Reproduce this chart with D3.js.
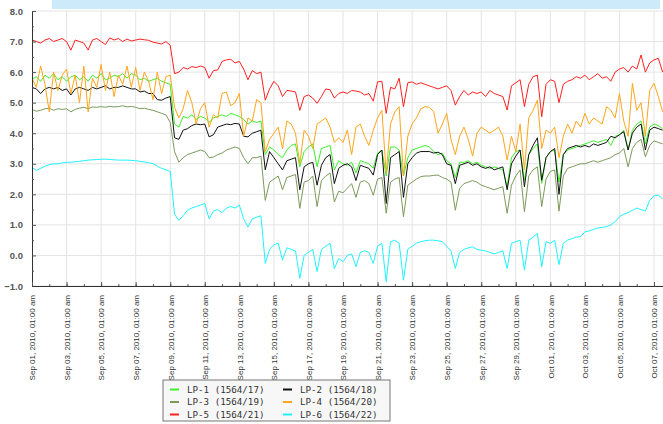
<!DOCTYPE html>
<html>
<head>
<meta charset="utf-8">
<script src="https://cdn.jsdelivr.net/npm/d3@7"></script>
<style>
  body { margin: 0; background: #fff; }
  svg { display: block; }
</style>
</head>
<body>
<svg id="chart" width="663" height="424"></svg>
<script>
// readings every 6 hours from Sep 01, 2010 01:00
const seriesNames = ["LP-1 (1564/17)", "LP-2 (1564/18)", "LP-3 (1564/19)", "LP-4 (1564/20)", "LP-5 (1564/21)", "LP-6 (1564/22)"];
const seriesColors = ["#3ef02a", "#111111", "#7b9a5a", "#ffa51a", "#ff2020", "#1ef4ff"];

const lp1 = [
  5.75, 5.85, 5.7, 5.9, 5.8, 5.95, 5.75, 5.85, 5.7, 5.85, 5.9, 5.75, 5.85, 5.7, 5.9, 5.8,
  5.95, 5.75, 5.8, 5.9, 5.85, 5.95, 5.8, 5.95, 5.9, 5.75, 5.8, 5.7, 5.75, 5.8, 5.7, 5.65,
  5.6, 4.3, 4.2, 4.55, 4.5, 4.6, 4.45, 4.55, 4.5, 4.35, 4.5, 4.55, 4.6, 4.55, 4.65, 4.6,
  4.55, 4.45, 4.3, 4.4, 4.35, 4.4, 3.3, 3.55, 3.45, 3.3, 3.2, 3.45, 3.6, 3.65, 2.9, 3.4,
  3.55, 3.65, 2.9, 3.5, 3.55, 3.6, 2.8, 3.1, 3.0, 2.95, 3.05, 2.7, 3.1, 3.05, 3.0, 2.85,
  3.35, 3.45, 2.6, 3.55, 3.55, 3.45, 2.6, 3.2, 3.45, 3.5, 3.55, 3.6, 3.55, 3.4, 3.3, 3.35,
  3.1, 3.0, 2.55, 3.05, 3.05, 3.1, 3.0, 3.05, 2.95, 2.9, 2.85, 2.9, 2.85, 2.8, 2.25, 3.2,
  3.4, 3.45, 2.46, 3.3, 3.5, 3.65, 2.36, 3.2, 3.4, 3.45, 2.4, 3.3, 3.45, 3.5, 3.55, 3.6,
  3.65, 3.7, 3.75, 3.7, 3.75, 3.8, 3.6, 3.9, 3.95, 4.1, 3.45, 4.1, 4.3, 4.4, 3.65, 4.2,
  4.3, 4.25, 4.15
];
const lp2 = [
  5.5, 5.45, 5.3, 5.45, 5.5, 5.45, 5.5, 5.4, 5.45, 5.25, 5.45, 5.5, 5.45, 5.4, 5.5, 5.45,
  5.5, 5.55, 5.45, 5.5, 5.5, 5.55, 5.5, 5.45, 5.45, 5.35, 5.38, 5.3, 5.3, 5.1, 5.08, 5.15,
  5.2, 3.85, 3.8, 4.1, 4.15, 4.25, 4.3, 4.28, 4.3, 3.88, 3.95, 4.2, 4.25, 4.3, 4.28, 4.32,
  4.3, 3.9, 3.88, 4.0, 4.05, 4.1, 2.8, 3.4, 3.2, 3.0, 2.8, 3.1, 3.15, 3.2, 2.15, 2.9,
  3.0, 3.05, 2.3, 2.95, 3.2, 3.3, 2.35, 2.85, 2.95, 3.0, 2.9, 2.45, 2.95, 2.9, 2.85, 2.63,
  3.3, 3.45, 1.7, 3.2, 3.3, 3.4, 1.9, 3.0, 3.2, 3.35, 3.4, 3.4, 3.4, 3.35, 3.38, 3.3,
  3.0, 2.95, 2.35, 2.95, 3.0, 3.05, 2.95, 3.0, 2.9, 2.85, 2.9, 2.8, 2.85, 2.9, 2.15, 3.0,
  3.25, 3.45, 2.25, 3.3, 3.6, 3.85, 2.46, 3.2, 3.4, 3.5, 2.0, 3.3, 3.5, 3.55, 3.6, 3.55,
  3.6, 3.55, 3.65, 3.6, 3.65, 3.7, 3.9, 3.85, 3.95, 4.05, 3.45, 4.0, 4.2, 4.3, 3.45, 4.1,
  4.2, 4.15, 4.1
];
const lp3 = [
  4.78, 4.72, 4.75, 4.8, 4.82, 4.75, 4.8, 4.78, 4.8, 4.7, 4.78, 4.82, 4.85, 4.8, 4.86, 4.85,
  4.87, 4.85, 4.88, 4.86, 4.87, 4.9, 4.86, 4.88, 4.85, 4.8, 4.82, 4.78, 4.75, 4.7, 4.65, 4.6,
  4.35, 3.4, 3.05, 3.2, 3.3, 3.35, 3.4, 3.45, 3.4, 3.2, 3.22, 3.3, 3.35, 3.45, 3.5, 3.55,
  3.5, 3.2, 3.0, 3.2, 3.2, 3.25, 1.8, 2.4, 2.5, 2.6, 2.15, 2.55, 2.6, 2.65, 1.54, 2.4,
  2.45, 2.6, 1.6, 2.45, 2.6, 2.7, 1.75, 2.1, 2.05, 2.2, 2.35, 1.9, 2.4, 2.45, 2.35, 1.97,
  2.5, 2.55, 1.38, 2.4, 2.5, 2.55, 1.27, 2.3, 2.4, 2.5, 2.58, 2.6, 2.6, 2.62, 2.63, 2.55,
  2.5, 2.4, 1.48, 2.2, 2.35, 2.4, 2.45, 2.4, 2.3, 2.25, 2.2, 2.15, 2.2, 2.25, 1.38, 2.3,
  2.6, 2.8, 1.43, 2.6, 2.8, 2.9, 1.6, 2.5, 2.75, 2.8, 1.45, 2.6, 2.85, 2.9, 2.95, 3.0,
  3.0, 3.05, 3.1, 3.05, 3.1, 3.15, 3.2, 3.3, 3.35, 3.5, 2.9, 3.5, 3.7, 3.8, 3.23, 3.6,
  3.75, 3.7, 3.65
];
const lp4 = [
  5.8, 5.5, 6.2, 5.6, 4.7, 6.0, 5.4, 5.9, 6.1, 5.3, 5.9, 5.0, 6.2, 4.7, 5.8, 5.5,
  6.25, 5.4, 6.0, 5.2, 5.9, 5.6, 6.2, 5.5, 6.15, 5.4, 6.0, 5.7, 5.1, 6.0, 5.3, 5.85,
  5.9, 4.85, 4.5, 4.8, 5.4, 5.0, 4.3, 4.8, 5.0, 4.2, 4.6, 4.5, 5.3, 5.35, 4.9, 5.0,
  5.3, 3.9, 4.5, 4.4, 5.1, 5.0, 3.4, 3.8, 4.0, 4.2, 3.5, 4.4, 4.3, 4.0, 3.0, 4.1,
  3.9, 3.5, 4.3, 4.4, 4.5, 4.2, 3.7, 3.85, 3.7, 4.1, 3.3, 4.2, 4.3, 3.9, 3.6, 4.1,
  4.5, 4.75, 2.7, 4.3, 4.7, 4.87, 2.6, 3.9, 4.3, 4.5, 4.8, 4.87, 4.85, 4.7, 4.0, 4.3,
  4.65, 3.8, 3.3, 3.9, 4.2, 3.8, 3.25, 4.0, 4.2, 4.1, 4.0, 4.1, 4.2, 3.9, 3.12, 3.9,
  3.4, 4.3, 2.8, 4.5, 4.75, 5.08, 3.5, 4.1, 4.0, 4.2, 3.2, 3.9, 4.3, 4.0, 4.4, 4.2,
  4.65, 4.3, 4.5, 4.4, 4.3, 4.87, 4.75, 4.5, 5.3, 4.4, 3.9, 5.63, 4.75, 5.0, 3.9, 5.4,
  5.63, 5.2, 4.7
];
const lp5 = [
  7.05, 7.0, 6.95, 7.05, 7.1, 7.0, 7.05, 7.1, 7.0, 6.72, 7.05, 7.0, 6.95, 6.72, 7.05, 7.1,
  7.0, 6.9, 7.12, 7.05, 7.1, 7.0, 7.08, 7.02, 7.05, 7.08, 7.06, 7.04, 6.98, 6.95, 6.92, 7.0,
  6.88, 5.95, 6.0, 6.15, 6.1, 6.18, 6.15, 6.2, 6.15, 5.8, 6.05, 6.07, 6.35, 6.4, 6.42, 6.3,
  6.35, 6.1, 5.75, 6.05, 5.95, 6.0, 5.08, 5.45, 5.7, 5.55, 5.2, 5.4, 5.38, 5.35, 4.75, 5.2,
  5.25, 5.15, 4.98, 5.2, 5.45, 5.42, 5.15, 5.3, 5.35, 5.3, 5.4, 5.38, 5.35, 5.25, 5.3, 5.05,
  5.68, 5.7, 4.65, 5.5, 5.45, 5.8, 4.87, 5.65, 5.68, 5.6, 5.65, 5.6, 5.55, 5.5, 5.45, 5.5,
  5.55, 5.4, 4.92, 5.2, 5.4, 5.25, 5.35, 5.3, 5.35, 5.2, 5.4, 5.3, 5.25, 5.2, 4.76, 5.55,
  5.65, 5.75, 4.87, 5.6, 5.85, 5.9, 4.54, 5.6, 5.75, 5.7, 5.0, 5.6, 5.7, 5.75, 5.85, 5.8,
  5.9, 5.75, 5.85, 5.95, 5.8, 5.85, 5.7, 6.0, 6.1, 6.15, 6.0, 6.2, 6.1, 6.56, 6.0, 6.3,
  6.4, 6.45, 6.0
];
const lp6 = [
  2.88, 2.78, 2.85, 2.92, 2.97, 3.0, 3.0, 3.03, 3.05, 3.05, 3.07, 3.08, 3.1, 3.12, 3.13, 3.14,
  3.15, 3.15, 3.14, 3.13, 3.12, 3.12, 3.12, 3.11, 3.1, 3.08, 3.06, 3.03, 3.01, 2.92, 2.85, 2.8,
  2.75, 1.35, 1.15, 1.3, 1.48, 1.55, 1.6, 1.65, 1.7, 1.2, 1.45, 1.5, 1.4, 1.55, 1.6, 1.55,
  1.65, 1.2, 0.93, 1.2, 1.25, 1.3, -0.26, 0.2, 0.35, 0.4, -0.15, 0.25, 0.2, 0.15, -0.75, 0.0,
  0.1, 0.2, -0.53, 0.2, 0.3, 0.4, -0.43, -0.1, -0.2, 0.0, 0.05, -0.37, 0.1, 0.15, 0.1, -0.26,
  0.3, 0.4, -0.86, 0.45, 0.5, 0.4, -0.81, 0.2, 0.3, 0.4, 0.45, 0.48, 0.5, 0.5, 0.48, 0.45,
  0.3, 0.15, -0.43, 0.1, 0.2, 0.25, 0.28, 0.2, 0.17, 0.15, 0.1, 0.05, 0.1, 0.15, -0.43, 0.4,
  0.45, 0.5, -0.48, 0.5, 0.6, 0.72, -0.37, 0.45, 0.4, 0.5, -0.3, 0.4, 0.5, 0.55, 0.6, 0.62,
  0.77, 0.8, 0.85, 0.9, 0.92, 0.94, 1.0, 1.1, 1.27, 1.35, 1.4, 1.48, 1.55, 1.5, 1.45, 1.8,
  1.95, 1.97, 1.85
];
const allSeries = [lp1, lp2, lp3, lp4, lp5, lp6];

const yTicks = [-1, 0, 1, 2, 3, 4, 5, 6, 7, 8];
const xTickLabels = [
  "Sep 01, 2010, 01:00 am", "Sep 03, 2010, 01:00 am", "Sep 05, 2010, 01:00 am",
  "Sep 07, 2010, 01:00 am", "Sep 09, 2010, 01:00 am", "Sep 11, 2010, 01:00 am",
  "Sep 13, 2010, 01:00 am", "Sep 15, 2010, 01:00 am", "Sep 17, 2010, 01:00 am",
  "Sep 19, 2010, 01:00 am", "Sep 21, 2010, 01:00 am", "Sep 23, 2010, 01:00 am",
  "Sep 25, 2010, 01:00 am", "Sep 27, 2010, 01:00 am", "Sep 29, 2010, 01:00 am",
  "Oct 01, 2010, 01:00 am", "Oct 03, 2010, 01:00 am", "Oct 05, 2010, 01:00 am",
  "Oct 07, 2010, 01:00 am"
];

const startTime = new Date(2010, 8, 1, 1, 0);
const HOUR = 3600 * 1000;
const times = lp1.map((d, i) => new Date(+startTime + i * 6 * HOUR));
const majorTicks = xTickLabels.map((d, i) => new Date(+startTime + i * 48 * HOUR));
const minorTicks = d3.range(37).map(i => new Date(+startTime + i * 24 * HOUR));

const plot = { left: 32, right: 663, top: 11, bottom: 286 };

const svg = d3.select("#chart");

// light blue strip at the very top
svg.append("rect")
  .attr("x", 52).attr("y", 0).attr("width", 608).attr("height", 9)
  .attr("fill", "#cdeafa");

const x = d3.scaleTime()
  .domain([startTime, new Date(+startTime + 36.52 * 24 * HOUR)])
  .range([plot.left, plot.right]);
const y = d3.scaleLinear().domain([-1, 8]).range([plot.bottom, plot.top]);

// grid
svg.append("g").selectAll("line").data(yTicks).join("line")
  .attr("x1", plot.left).attr("x2", plot.right)
  .attr("y1", d => y(d)).attr("y2", d => y(d))
  .attr("stroke", "#e4e4e4");
svg.append("g").selectAll("line").data(majorTicks.slice(1)).join("line")
  .attr("x1", d => x(d)).attr("x2", d => x(d))
  .attr("y1", plot.top).attr("y2", plot.bottom)
  .attr("stroke", "#e4e4e4");

svg.append("defs").append("clipPath").attr("id", "clip")
  .append("rect")
  .attr("x", plot.left).attr("y", 0)
  .attr("width", plot.right - plot.left).attr("height", plot.bottom);

const line = d3.line()
  .x((d, i) => x(times[i]))
  .y(d => y(d));

svg.append("g").attr("clip-path", "url(#clip)")
  .selectAll("path").data(allSeries).join("path")
  .attr("d", line)
  .attr("fill", "none")
  .attr("stroke", (d, i) => seriesColors[i])
  .attr("stroke-width", 1)
  .attr("stroke-linejoin", "round");

// axes
const yAxis = svg.append("g")
  .attr("transform", "translate(" + plot.left + ",0)")
  .call(d3.axisLeft(y).tickValues(yTicks).tickFormat(d3.format(".1f"))
    .tickSize(-4).tickPadding(9));
svg.append("g")
  .attr("transform", "translate(" + plot.left + ",0)")
  .call(d3.axisLeft(y).tickValues(d3.range(-0.5, 8, 1)).tickFormat("").tickSize(-2))
  .call(g => g.select(".domain").remove());
yAxis.selectAll("text")
  .attr("font-family", "Liberation Sans, Arial, sans-serif")
  .attr("font-size", 9.5)
  .attr("font-weight", "bold")
  .attr("fill", "#555");

const xAxis = svg.append("g")
  .attr("transform", "translate(0," + plot.bottom + ")")
  .call(d3.axisBottom(x).tickValues(majorTicks)
    .tickFormat((d, i) => xTickLabels[i]).tickSize(-4));
svg.append("g")
  .attr("transform", "translate(0," + plot.bottom + ")")
  .call(d3.axisBottom(x).tickValues(minorTicks).tickFormat("").tickSize(-2))
  .call(g => g.select(".domain").remove());
xAxis.selectAll("text")
  .attr("transform", "rotate(-90)")
  .attr("x", -9).attr("y", 0).attr("dy", "0.35em")
  .style("text-anchor", "end")
  .attr("font-family", "Liberation Sans, Arial, sans-serif")
  .attr("font-size", 8)
  .attr("fill", "#333");

svg.selectAll(".domain").attr("stroke", "#333");
svg.selectAll(".tick line").attr("stroke", "#555");

// legend
const legend = svg.append("g").attr("transform", "translate(163,380)");
legend.append("rect")
  .attr("width", 227).attr("height", 41)
  .attr("fill", "#f7f7f7").attr("stroke", "#777");
const items = legend.selectAll("g.item").data(seriesNames).join("g")
  .attr("class", "item")
  .attr("transform", (d, i) => "translate(" + (i % 2 ? 120 : 7) + "," + (9.5 + Math.floor(i / 2) * 12.5) + ")");
items.append("line")
  .attr("x1", 0).attr("x2", 9).attr("y1", 0).attr("y2", 0)
  .attr("stroke", (d, i) => seriesColors[i]).attr("stroke-width", 2);
items.append("text")
  .attr("x", 17).attr("dy", "0.35em")
  .attr("font-family", "DejaVu Sans Mono, monospace")
  .attr("font-size", 9.2)
  .attr("fill", "#333")
  .text(d => d);
</script>
</body>
</html>
